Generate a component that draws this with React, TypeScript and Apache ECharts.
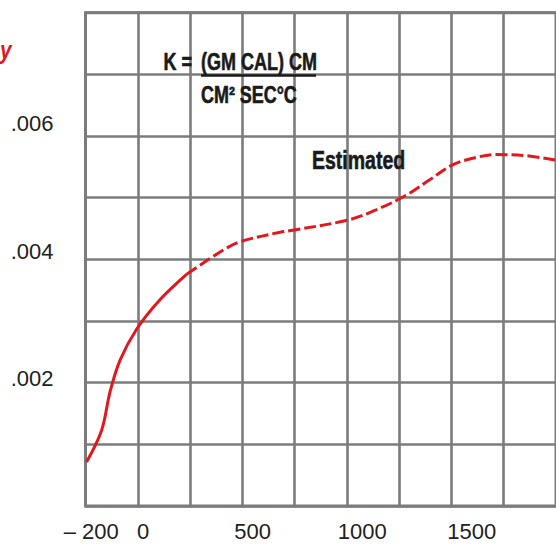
import React, { useEffect, useRef } from "react";
import * as echarts from "echarts";

// Temperature (°C) along the curve
const tempC = [-258, -189, -151, -105, -29, 77, 199, 366, 442, 625, 683, 934, 1063, 1200, 1306, 1414, 1515, 1613, 1752, 1884];
// Thermal conductivity K
const conductivity = [0.00069, 0.00119, 0.00179, 0.00229, 0.00278, 0.00324, 0.00364, 0.00402, 0.00415, 0.0043, 0.00433, 0.00449, 0.00465, 0.00488, 0.00512, 0.00536, 0.00547, 0.00552, 0.0055, 0.00543];
// number of points drawn as a solid (measured) line; the rest is estimated (dashed)
const measuredCount = 7;
const xTickLabels = [-200, 0, 500, 1000, 1500];
const yTickLabels = [0.002, 0.004, 0.006];

const FONT = '"Liberation Sans", Arial, sans-serif';
const GRID_COLOR = "#7c7c7c";
const RED = "#e3171d";
const INK = "#1a1a1a";

export default function App() {
  const ref = useRef<HTMLDivElement>(null);
  useEffect(() => {
    if (!ref.current) return;
    const chart = echarts.init(ref.current, undefined, { renderer: "svg" });
    const pts = tempC.map((t, i) => [t, conductivity[i]]);
    const measured = pts.slice(0, measuredCount);
    const estimated = pts.slice(measuredCount - 1);
    const boldText = (text: string, x: number, y: number, size: number, sx: number, align = "left") => ({
      type: "text",
      x,
      y,
      scaleX: sx,
      z: 10,
      style: {
        text,
        fontSize: size,
        fontWeight: "bold",
        fontFamily: FONT,
        fill: INK,
        stroke: INK,
        lineWidth: 0.6,
        align,
        verticalAlign: "middle",
      },
    });
    chart.setOption({
      animation: false,
      backgroundColor: "#ffffff",
      grid: {
        left: 85.5,
        right: 0,
        top: 12.7,
        bottom: 38,
        show: true,
        borderColor: GRID_COLOR,
        borderWidth: 3,
        backgroundColor: "transparent",
      },
      xAxis: [
        {
          type: "value",
          min: -262.7,
          max: 1884.1,
          position: "bottom",
          axisLine: { show: false },
          axisTick: { show: false },
          splitLine: { show: false },
          axisLabel: {
            customValues: xTickLabels,
            margin: 14,
            fontSize: 22,
            fontFamily: FONT,
            color: "#222222",
            formatter: (v: number) => (v < 0 ? "{neg|\u2013 " + Math.abs(v) + "}" : String(v)),
            rich: {
              neg: { fontSize: 22, fontFamily: FONT, color: "#222222", padding: [0, 16, 0, 0] },
            },
          },
        },
        {
          type: "value",
          min: 0,
          max: 9,
          interval: 1,
          position: "bottom",
          axisLine: { show: false },
          axisTick: { show: false },
          axisLabel: { show: false },
          splitLine: { show: true, lineStyle: { color: GRID_COLOR, width: 2.6 } },
        },
      ],
      yAxis: [
        {
          type: "value",
          min: 0,
          max: 0.007747,
          axisLine: { show: false },
          axisTick: { show: false },
          splitLine: { show: false },
          axisLabel: {
            customValues: yTickLabels,
            margin: 32,
            fontSize: 22,
            fontFamily: FONT,
            color: "#222222",
            formatter: (v: number) => v.toFixed(3).replace(/^0/, ""),
          },
        },
        {
          type: "value",
          min: 0,
          max: 8,
          interval: 1,
          axisLine: { show: false },
          axisTick: { show: false },
          axisLabel: { show: false },
          splitLine: { show: true, lineStyle: { color: GRID_COLOR, width: 2.6 } },
        },
      ],
      series: [
        {
          type: "line",
          xAxisIndex: 0,
          yAxisIndex: 0,
          data: measured,
          smooth: 0.35,
          showSymbol: false,
          z: 5,
          lineStyle: { color: RED, width: 3 },
        },
        {
          type: "line",
          xAxisIndex: 0,
          yAxisIndex: 0,
          data: estimated,
          smooth: 0.35,
          showSymbol: false,
          z: 5,
          lineStyle: { color: RED, width: 3, type: [12, 4] },
        },
      ],
      graphic: [
        {
          type: "text",
          x: 0,
          y: 50,
          z: 10,
          scaleX: 0.8,
          style: {
            text: "y",
            fontSize: 26,
            fontWeight: "bold",
            fontStyle: "italic",
            fontFamily: FONT,
            fill: RED,
            align: "left",
            verticalAlign: "middle",
          },
        },
        boldText("K =", 192, 62, 24, 0.75, "right"),
        boldText("(GM CAL) CM", 201, 62, 24, 0.75),
        {
          type: "line",
          z: 10,
          shape: { x1: 201, y1: 75.5, x2: 316, y2: 75.5 },
          style: { stroke: INK, lineWidth: 2.5 },
        },
        boldText("CM\u00b2 SEC\u00b0C", 201, 95, 23, 0.78),
        boldText("Estimated", 312, 161, 25, 0.78),
      ],
    });
    return () => chart.dispose();
  }, []);
  return (
    <div
      ref={ref}
      style={{ position: "fixed", left: 0, top: 0, width: 556, height: 544, background: "#ffffff" }}
    />
  );
}
